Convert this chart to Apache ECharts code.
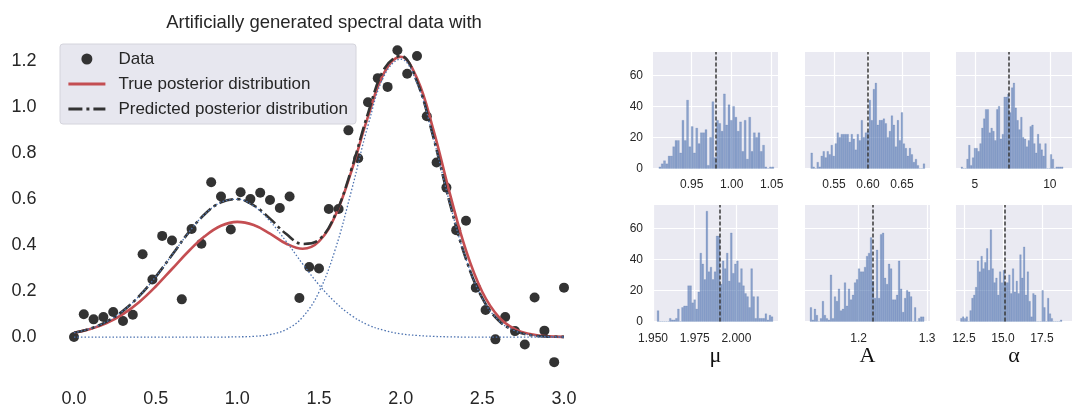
<!DOCTYPE html>
<html>
<head>
<meta charset="utf-8">
<script src="https://cdn.jsdelivr.net/npm/echarts@6.0.0/dist/echarts.min.js"></script>
<style>
  html, body { margin: 0; padding: 0; background: #fff; }
  #chart { width: 1072px; height: 408px; }
</style>
</head>
<body>
<div id="chart"></div>
<script>
// observed spectrum
const dataX = [0, 0.06, 0.12, 0.18, 0.24, 0.30, 0.36, 0.42, 0.48, 0.54, 0.60, 0.66, 0.72, 0.78, 0.84, 0.90, 0.96,
  1.02, 1.08, 1.14, 1.20, 1.26, 1.32, 1.38, 1.44, 1.50, 1.56, 1.62, 1.68, 1.74, 1.80, 1.86, 1.92, 1.98,
  2.04, 2.10, 2.16, 2.22, 2.28, 2.34, 2.40, 2.46, 2.52, 2.58, 2.64, 2.70, 2.76, 2.82, 2.88, 2.94, 3.00]
const dataY = [0.0, 0.099, 0.077, 0.087, 0.109, 0.07, 0.097, 0.36, 0.25, 0.44, 0.42, 0.164, 0.47, 0.406, 0.673, 0.611, 0.468,
  0.63, 0.6, 0.628, 0.596, 0.561, 0.611, 0.17, 0.305, 0.298, 0.557, 0.557, 0.899, 0.778, 1.021, 1.126, 1.088, 1.247,
  1.145, 1.222, 0.96, 0.759, 0.65, 0.465, 0.506, 0.215, 0.118, -0.01, 0.087, 0.026, -0.032, 0.172, 0.028, -0.109, 0.215]

// curves sampled every 0.1
const curveX = [0, 0.1, 0.2, 0.3, 0.4, 0.5, 0.6, 0.7, 0.8, 0.9, 1.0, 1.1, 1.2, 1.3, 1.4, 1.5, 1.6, 1.7, 1.8, 1.9,
  2.0, 2.1, 2.2, 2.3, 2.4, 2.5, 2.6, 2.7, 2.8, 2.9, 3.0]
const trueCurve = [0.019, 0.035, 0.061, 0.100, 0.153, 0.220, 0.296, 0.372, 0.438, 0.484, 0.501, 0.487, 0.450, 0.406,
  0.384, 0.416, 0.529, 0.725, 0.959, 1.151, 1.219, 1.125, 0.902, 0.627, 0.377, 0.196, 0.088, 0.034, 0.012, 0.003, 0.001]
const predCurve = [0.019, 0.037, 0.067, 0.114, 0.179, 0.262, 0.357, 0.453, 0.534, 0.586, 0.600, 0.573, 0.515, 0.448,
  0.405, 0.423, 0.533, 0.733, 0.973, 1.167, 1.223, 1.111, 0.869, 0.585, 0.339, 0.169, 0.072, 0.027, 0.008, 0.002, 0.001]
const peak1Curve = [0.019, 0.037, 0.067, 0.114, 0.179, 0.262, 0.357, 0.453, 0.534, 0.586, 0.599, 0.570, 0.504, 0.415,
  0.318, 0.227, 0.151, 0.093, 0.053, 0.029, 0.014, 0.007, 0.003, 0.001, 0, 0, 0, 0, 0, 0, 0]
const peak2Curve = [0, 0, 0, 0, 0, 0, 0, 0, 0, 0, 0.001, 0.003, 0.011, 0.033, 0.087, 0.196, 0.382, 0.640, 0.920,
  1.138, 1.209, 1.104, 0.866, 0.584, 0.339, 0.169, 0.072, 0.027, 0.008, 0.002, 0.001]
const mainXTicks = [0, 0.5, 1.0, 1.5, 2.0, 2.5, 3.0]
const mainYTicks = [0, 0.2, 0.4, 0.6, 0.8, 1.0, 1.2]

// posterior samples, histogram counts
const mu1Counts = [1, 3, 5, 3, 8, 8, 14, 18, 18, 10, 31, 18, 44, 14, 27, 10, 26, 16, 23, 23, 25, 2, 20, 43, 7, 31,
  29, 24, 48, 28, 41, 31, 40, 33, 24, 30, 11, 31, 6, 33, 11, 23, 20, 23, 11, 15, 1, 0, 1, 1]
const amp1Counts = [10, 1, 0, 4, 1, 8, 11, 7, 11, 9, 15, 8, 16, 23, 20, 22, 22, 22, 22, 17, 22, 19, 12, 22, 18, 31,
  20, 23, 24, 44, 31, 51, 55, 28, 31, 31, 32, 29, 20, 24, 34, 28, 14, 31, 18, 36, 16, 13, 8, 13, 9, 4, 6, 2, 0, 0, 3]
const alpha1Counts = [1, 0, 0, 6, 15, 2, 7, 13, 13, 11, 16, 26, 32, 38, 38, 23, 26, 24, 18, 38, 40, 19, 22, 46, 46,
  48, 36, 52, 55, 39, 31, 25, 33, 20, 19, 14, 18, 27, 28, 16, 10, 22, 16, 12, 8, 16, 0, 0, 9, 6, 0, 1, 1, 1, 1]
const mu2Counts = [7, 0, 0, 0, 0, 0, 2, 1, 1, 2, 8, 0, 9, 10, 10, 23, 23, 12, 14, 8, 19, 44, 37, 27, 71, 32, 35, 27,
  32, 55, 55, 24, 39, 34, 44, 26, 57, 31, 37, 39, 25, 34, 23, 18, 16, 9, 34, 16, 2, 16, 2, 2, 2, 5, 1, 4, 3]
const amp2Counts = [9, 1, 8, 4, 0, 2, 13, 4, 2, 1, 30, 2, 16, 13, 21, 7, 8, 25, 10, 21, 14, 17, 25, 27, 34, 32, 32,
  35, 42, 44, 54, 26, 15, 46, 15, 56, 57, 28, 24, 37, 34, 14, 14, 17, 39, 21, 6, 15, 20, 19, 16, 0, 9, 0, 2, 3, 3]
const alpha2Counts = [2, 3, 2, 3, 0, 7, 15, 17, 22, 39, 32, 42, 34, 38, 47, 33, 59, 34, 25, 28, 17, 32, 25, 33, 25,
  25, 30, 18, 34, 19, 26, 18, 43, 28, 48, 17, 32, 13, 3, 18, 17, 0, 0, 0, 20, 9, 0, 15, 5, 2, 0, 0, 0, 0, 1]

// sample range covered by the bins [lo, hi]
const binRanges = [[0.909, 1.053], [0.516, 0.684], [4.08, 10.9], [1.9525, 2.022], [1.129, 1.296], [12.28, 18.8]]
const posteriorMeans = [0.9808, 0.6045, 7.25, 1.9896, 1.2186, 15.12]
const histXTicks = [[0.95, 1.00, 1.05], [0.55, 0.60, 0.65], [5, 10], [1.950, 1.975, 2.000], [1.2, 1.3], [12.5, 15.0, 17.5]]
const histXDigits = [2, 2, 0, 3, 1, 1]
const histYTicks = [0, 20, 40, 60]
const paramNames = ['', '', '', 'μ', 'A', 'α']

const chart = echarts.init(document.getElementById('chart'))
const textColor = '#262626'

// subplot frames
const histLeft = [653, 805, 956]
const histTop = [52, 205]
const histExtent = [[0.9016, 1.0579], [0.5074, 0.6912], [3.74, 11.48], [1.950, 2.0249], [1.1216, 1.3043], [11.99, 19.43]]

const grids = [{ left: 49.5, right: 483.5, top: 34, bottom: 30 }]
const xAxes = [{
  type: 'value', gridIndex: 0, min: -0.15, max: 3.15,
  axisLine: { show: false }, axisTick: { show: false }, splitLine: { show: false },
  axisLabel: {
    customValues: mainXTicks, color: textColor, fontSize: 18, margin: 12,
    fontFamily: 'Liberation Sans', formatter: v => v.toFixed(1)
  }
}]
const yAxes = [{
  type: 'value', gridIndex: 0, min: -0.178, max: 1.318,
  axisLine: { show: false }, axisTick: { show: false }, splitLine: { show: false },
  axisLabel: {
    customValues: mainYTicks, color: textColor, fontSize: 18, margin: 13,
    fontFamily: 'Liberation Sans', formatter: v => v.toFixed(1)
  }
}]

const counts = [mu1Counts, amp1Counts, alpha1Counts, mu2Counts, amp2Counts, alpha2Counts]
const histSeries = []

for (let i = 0; i < 6; i++) {
  const row = Math.floor(i / 3)
  const col = i % 3
  const gi = i + 1
  grids.push({
    left: histLeft[col], top: histTop[row], width: 125, height: 116.5,
    show: true, backgroundColor: '#eaeaf2', borderWidth: 0
  })
  xAxes.push({
    type: 'value', gridIndex: gi, min: histExtent[i][0], max: histExtent[i][1],
    axisLine: { show: false },
    axisTick: { show: false, customValues: histXTicks[i] },
    splitLine: { show: true, lineStyle: { color: '#fff', width: 1.2 } },
    axisLabel: {
      customValues: histXTicks[i], color: textColor, fontSize: 12, margin: row === 0 ? 10 : 11,
      fontFamily: 'Liberation Sans', hideOverlap: false, formatter: v => v.toFixed(histXDigits[i])
    },
    name: paramNames[i], nameLocation: 'middle', nameGap: 23,
    nameTextStyle: { fontFamily: 'Liberation Serif', fontSize: 22, color: '#111' }
  })
  yAxes.push({
    type: 'value', gridIndex: gi, min: 0, max: 75,
    axisLine: { show: false },
    axisTick: { show: false, customValues: histYTicks },
    splitLine: { show: true, lineStyle: { color: '#fff', width: 1.2 } },
    axisLabel: {
      show: col === 0, customValues: histYTicks, color: textColor, fontSize: 12, margin: 10,
      fontFamily: 'Liberation Sans'
    }
  })
  const lo = binRanges[i][0]
  const w = (binRanges[i][1] - binRanges[i][0]) / counts[i].length
  histSeries.push({
    type: 'custom',
    xAxisIndex: gi,
    yAxisIndex: gi,
    silent: true,
    data: counts[i].map((c, k) => [lo + k * w, lo + (k + 1) * w, c]),
    encode: { x: [0, 1], y: 2 },
    renderItem: (params, api) => {
      const p0 = api.coord([api.value(0), api.value(2)])
      const p1 = api.coord([api.value(1), 0])
      return {
        type: 'rect',
        shape: { x: p0[0], y: p0[1], width: (p1[0] - p0[0]) * 0.86, height: p1[1] - p0[1] },
        style: { fill: 'rgba(76,114,176,0.6)', stroke: 'rgba(60,95,160,0.4)', lineWidth: 0.4 }
      }
    },
    markLine: {
      silent: true,
      symbol: 'none',
      label: { show: false },
      lineStyle: { type: [4, 2], color: '#3a3a3a', width: 1.5 },
      data: [{ xAxis: posteriorMeans[i] }]
    }
  })
}

const zip = (xs, ys) => xs.map((x, k) => [x, ys[k]])

const option = {
  animation: false,
  backgroundColor: '#fff',
  title: {
    text: 'Artificially generated spectral data with',
    left: 319, top: 8, textAlign: 'center',
    textStyle: { fontFamily: 'Liberation Sans', fontSize: 18.5, fontWeight: 'normal', color: textColor }
  },
  legend: {
    left: 60, top: 44, orient: 'vertical',
    data: [
      { name: 'Data' },
      // line entries: only the stroke, no marker in the middle
      { name: 'True posterior distribution', itemStyle: { opacity: 0 }, lineStyle: { width: 2.8 } },
      { name: 'Predicted posterior distribution', itemStyle: { opacity: 0 }, lineStyle: { width: 2.8 } }
    ],
    itemWidth: 37, itemHeight: 11, itemGap: 5,
    padding: [5, 8, 5, 7],
    backgroundColor: '#e7e7ef', borderColor: '#d4d4dc', borderWidth: 1, borderRadius: 3,
    textStyle: { fontFamily: 'Liberation Sans', fontSize: 17, color: textColor, lineHeight: 20, padding: [0, 0, 0, 8] }
  },
  grid: grids,
  xAxis: xAxes,
  yAxis: yAxes,
  series: [
    {
      name: 'Data', type: 'scatter', xAxisIndex: 0, yAxisIndex: 0,
      symbolSize: 10, itemStyle: { color: '#333333', opacity: 1 },
      data: zip(dataX, dataY)
    },
    {
      name: 'True posterior distribution', type: 'line', xAxisIndex: 0, yAxisIndex: 0,
      symbol: 'none', smooth: 0.4,
      lineStyle: { color: '#c44e52', width: 2.6 }, itemStyle: { color: '#c44e52' },
      data: zip(curveX, trueCurve)
    },
    {
      name: 'Predicted posterior distribution', type: 'line', xAxisIndex: 0, yAxisIndex: 0,
      symbol: 'none', smooth: 0.4,
      lineStyle: { color: '#333333', width: 2.6, type: [14, 4, 3, 4] }, itemStyle: { color: '#333333' },
      data: zip(curveX, predCurve)
    },
    {
      name: 'peak 1', type: 'line', xAxisIndex: 0, yAxisIndex: 0,
      symbol: 'none', smooth: 0.4,
      lineStyle: { color: '#4c72b0', width: 1.3, type: [1.5, 2] },
      data: zip(curveX, peak1Curve)
    },
    {
      name: 'peak 2', type: 'line', xAxisIndex: 0, yAxisIndex: 0,
      symbol: 'none', smooth: 0.4,
      lineStyle: { color: '#4c72b0', width: 1.3, type: [1.5, 2] },
      data: zip(curveX, peak2Curve)
    }
  ].concat(histSeries)
}

chart.setOption(option)
</script>
</body>
</html>
